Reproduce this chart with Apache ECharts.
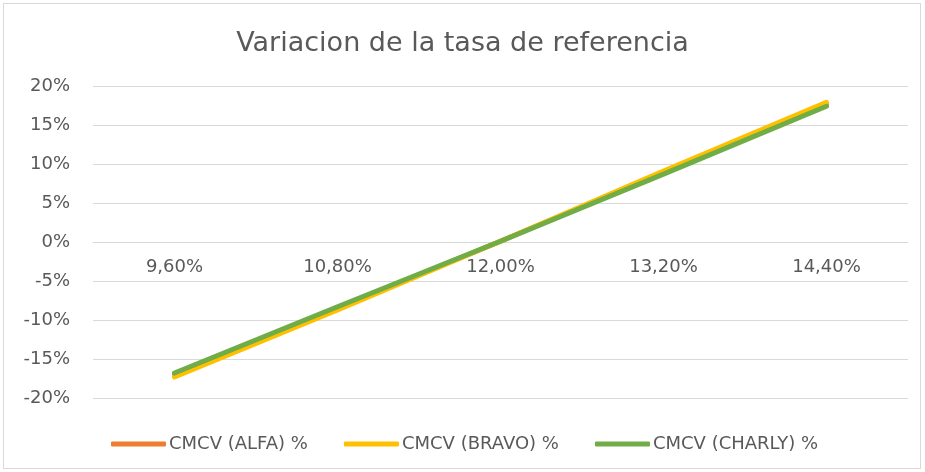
<!DOCTYPE html>
<html>
<head>
<meta charset="utf-8">
<script src="https://cdn.jsdelivr.net/npm/echarts@6/dist/echarts.min.js"></script>
<style>
  html, body { margin: 0; padding: 0; background: #fff; }
  #wrap {
    position: absolute; left: 3px; top: 3px;
    width: 916px; height: 464px;
    border: 1px solid #d9d9d9;
  }
  #chart { width: 925px; height: 472px; position: absolute; left: 0; top: 0; }
</style>
</head>
<body>
<div id="wrap"></div>
<div id="chart"></div>
<script>
// datos
const tasas = ["9,60%", "10,80%", "12,00%", "13,20%", "14,40%"];
const alfa = [-17.0, -8.5, 0.1, 8.9, 17.7];
const bravo = [-17.3, -8.7, 0.1, 9.1, 17.9];
const charly = [-16.8, -8.3, 0.1, 8.7, 17.4];
const seriesNames = ["CMCV (ALFA) %", "CMCV (BRAVO) %", "CMCV (CHARLY) %"];
const colores = ["#ED7D31", "#FFC000", "#70AD47"];

const chart = echarts.init(document.getElementById("chart"));
const font = "'DejaVu Sans', sans-serif";

const mkLine = (name, data, color) => ({
  name,
  type: "line",
  data,
  symbol: "none",
  smooth: false,
  lineStyle: { width: 5, color, cap: "round" },
  itemStyle: { color }
});

chart.setOption({
  animation: false,
  textStyle: { fontFamily: font },
  title: {
    text: "Variacion de la tasa de referencia",
    left: "center",
    top: 25,
    textStyle: { fontFamily: font, fontSize: 27, fontWeight: "normal", color: "#595959" }
  },
  grid: { left: 93, right: 17, top: 86, bottom: 74 },
  legend: {
    top: 430,
    left: 106,
    itemGap: 36,
    itemWidth: 55,
    itemHeight: 5,
    icon: "roundRect",
    textStyle: { fontFamily: font, fontSize: 18, color: "#595959", padding: [0, 0, 0, -2] },
    data: seriesNames
  },
  xAxis: {
    type: "category",
    data: tasas,
    boundaryGap: true,
    position: "bottom",
    offset: -156,
    axisLine: { onZero: false, lineStyle: { color: "#d9d9d9", width: 1 } },
    axisTick: { show: false },
    axisLabel: { color: "#595959", fontSize: 18, margin: 16, fontFamily: font }
  },
  yAxis: {
    type: "value",
    min: -20,
    max: 20,
    interval: 5,
    axisLine: { show: false },
    axisTick: { show: false },
    splitLine: { lineStyle: { color: "#d9d9d9", width: 1 } },
    axisLabel: { color: "#595959", fontSize: 18, margin: 23, formatter: "{value}%", fontFamily: font }
  },
  series: [
    mkLine(seriesNames[0], alfa, colores[0]),
    mkLine(seriesNames[1], bravo, colores[1]),
    mkLine(seriesNames[2], charly, colores[2])
  ]
});
</script>
</body>
</html>
